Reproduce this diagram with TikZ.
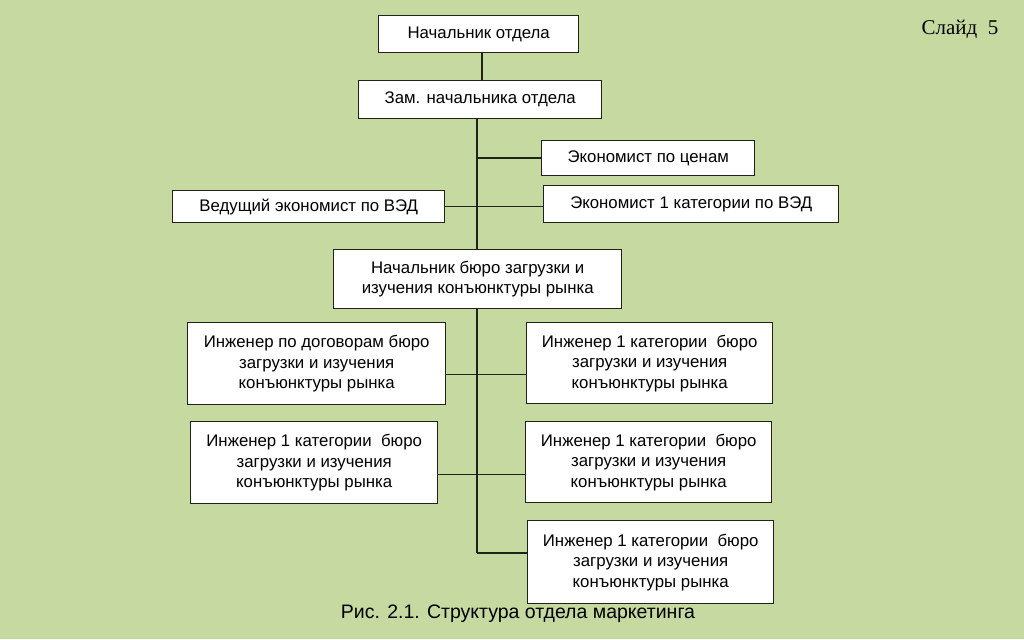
\documentclass[tikz,border=0pt]{standalone}
\usepackage{fontspec}
\setmainfont{Liberation Sans}
\newfontfamily\slidefont{Liberation Serif}
\definecolor{bg}{HTML}{C6D9A0}
\definecolor{edge}{HTML}{1E2418}
\begin{document}
\begin{tikzpicture}[x=1pt,y=-1pt,
  box/.style={draw=edge,line width=1.4pt,fill=white,inner sep=0pt,align=center,font=\fontsize{16.8}{20.5}\selectfont,anchor=north west},
  conn/.style={draw=edge,line width=1.4pt}]
\fill[bg] (0,0) rectangle (1024,639);
\useasboundingbox (0,0) rectangle (1024,639);
\node[box,minimum width=200pt,minimum height=37pt] (head) at (378,15) {Начальник отдела};
\node[box,minimum width=243pt,minimum height=38pt] (dep) at (358,80) {Зам. начальника отдела};
\node[box,minimum width=213pt,minimum height=35pt] (price) at (541,140) {Экономист по ценам};
\node[box,minimum width=272pt,minimum height=32pt] (lead) at (172,190) {Ведущий экономист по ВЭД};
\node[box,minimum width=295pt,minimum height=37pt] (eco1) at (543,185) {Экономист 1 категории по ВЭД};
\node[box,minimum width=288pt,minimum height=59pt] (bur) at (333,249) {Начальник бюро загрузки и\\изучения конъюнктуры рынка};
\node[box,minimum width=258pt,minimum height=82pt] (l1) at (187,322) {Инженер по договорам бюро\\загрузки и изучения\\конъюнктуры рынка};
\node[box,minimum width=246pt,minimum height=81pt] (r1) at (526,322) {Инженер 1 категории\ \ бюро\\загрузки и изучения\\конъюнктуры рынка};
\node[box,minimum width=247pt,minimum height=82pt] (l2) at (190,421) {Инженер 1 категории\ \ бюро\\загрузки и изучения\\конъюнктуры рынка};
\node[box,minimum width=246pt,minimum height=81pt] (r2) at (525,421) {Инженер 1 категории\ \ бюро\\загрузки и изучения\\конъюнктуры рынка};
\node[box,minimum width=246pt,minimum height=83pt] (r3) at (527,520) {Инженер 1 категории\ \ бюро\\загрузки и изучения\\конъюнктуры рынка};
\node[font=\fontsize{19.5}{22}\selectfont] (cap) at (518,614) {Рис. 2.1. Структура отдела маркетинга};
\node[font=\slidefont\fontsize{21}{24}\selectfont,anchor=west] (slide) at (918,29) {Слайд\ \ 5};
% connectors
\coordinate (hx) at (482,0);
\coordinate (tr1) at (477,118);
\coordinate (tr2) at (477,553);
\draw[conn] (head.south -| hx) -- (dep.north -| hx);
\draw[conn] (dep.south -| tr1) -- (bur.north -| tr1);
\draw[conn] (price.west) -- (price.west -| tr1);
\draw[conn] (lead.east) -- (lead.east -| eco1.west);
\draw[conn] (bur.south -| tr1) -- (tr2);
\draw[conn] (tr2) -- (r3.west |- tr2);
\draw[conn] ([yshift=-11pt]l1.east) -- ([yshift=-11pt]l1.east -| r1.west);
\draw[conn] ([yshift=-12pt]l2.east) -- ([yshift=-12pt]l2.east -| r2.west);
\end{tikzpicture}
\end{document}
